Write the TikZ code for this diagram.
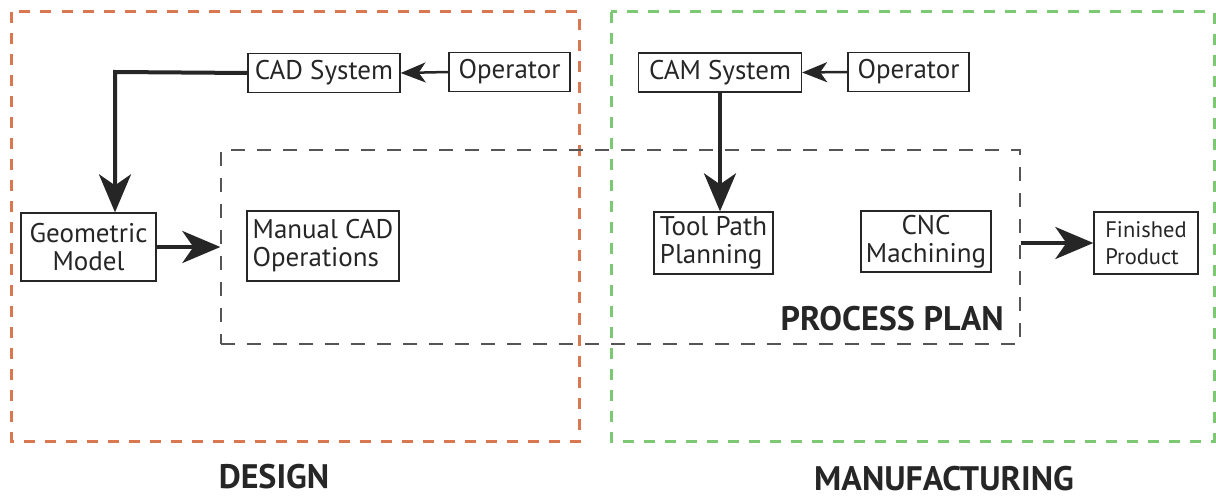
\documentclass[tikz,border=0pt]{standalone}
\usepackage{fontspec}
\setmainfont{PT Sans}
\usetikzlibrary{arrows.meta}
\definecolor{dorange}{RGB}{217,119,80}
\definecolor{dgreen}{RGB}{125,200,115}
\definecolor{ink}{RGB}{38,38,38}
\definecolor{ppgray}{RGB}{85,85,85}
\tikzset{
  box/.style={draw=ink, line width=1.3pt, fill=white, inner sep=2pt, font=\fontsize{27}{28}\selectfont, text=ink},
  frame/.style={line width=3pt, dash pattern=on 11pt off 10pt},
  ppframe/.style={draw=ppgray, line width=1.3pt, dash pattern=on 14pt off 12pt},
  bigarrow/.style={draw=ink, line width=4pt, -{Stealth[length=38pt, width=32pt, inset=11pt]}},
  smallarrow/.style={draw=ink, line width=2.5pt, -{Stealth[length=25pt, width=20pt, inset=7pt]}},
  biglabel/.style={font=\fontsize{34}{36}\bfseries\selectfont, text=ink, inner sep=0pt, text depth=0pt},
}
\begin{document}
\begin{tikzpicture}[x=1pt,y=-1pt]
\useasboundingbox (0,0) rectangle (1216,497);
% frames
\draw[frame, draw=dorange] (11.5,12) rectangle (579,441);
\draw[frame, draw=dgreen] (611,12) rectangle (1214,441);
\node[ppframe, minimum width=799pt, minimum height=194pt, inner sep=0pt] (pp) at (620.5,247) {};
% labels
\node[biglabel, anchor=base east] (pplab) at (1004,330) {PROCESS PLAN};
\node[biglabel, anchor=base] (design) at (274,488) {DESIGN};
\node[biglabel, anchor=base] (manu) at (944,490) {MANUFACTURING};
% boxes
\node[box, minimum width=152pt, minimum height=39pt] (cad) at (324,73) {CAD System};
\node[box, minimum width=121pt, minimum height=39pt] (op1) at (509.5,72) {Operator};
\node[box, minimum width=135pt, minimum height=68pt, align=center] (geo) at (88.5,247) {Geometric\\Model};
\node[box, minimum width=152pt, minimum height=70pt, align=left] (man) at (323,246) {Manual CAD\\Operations};
\node[box, minimum width=163pt, minimum height=39pt] (cam) at (720,72.5) {CAM System};
\node[box, minimum width=121pt, minimum height=39pt] (op2) at (908.5,72) {Operator};
\node[box, minimum width=119pt, minimum height=62pt, align=left] (tool) at (713.5,243) {Tool Path\\Planning};
\node[box, minimum width=130pt, minimum height=61pt, align=center] (cnc) at (926,241.5) {CNC\\Machining};
\node[box, minimum width=104pt, minimum height=62pt, align=left, font=\fontsize{22.5}{27}\selectfont] (fin) at (1146,243) {Finished\\Product};
% connectors
\coordinate (bend) at (115,72);
\draw[bigarrow] (cad.west) -- (bend) -- (bend |- geo.north);
\draw[smallarrow] (op1.west) -- (cad.east);
\draw[smallarrow] (op2.west) -- (cam.east);
\draw[bigarrow] (geo.east) -- (geo.east -| pp.west);
\draw[bigarrow] (cam.south) -- (cam.south |- tool.north);
\draw[bigarrow] (pp.east |- fin.west) -- (fin.west);
\end{tikzpicture}
\end{document}
